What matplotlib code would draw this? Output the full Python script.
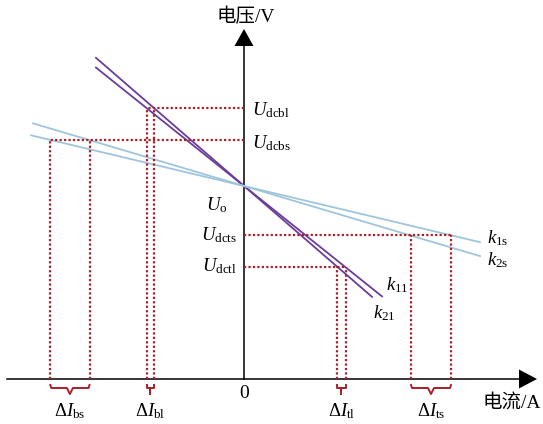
import matplotlib
matplotlib.use("Agg")
import matplotlib.pyplot as plt
import numpy as np

plt.rcParams['mathtext.fontset'] = 'custom'
plt.rcParams['mathtext.rm'] = 'Liberation Serif'
plt.rcParams['mathtext.it'] = 'Liberation Serif:italic'
plt.rcParams['font.family'] = ['Liberation Serif', 'Noto Sans CJK SC']

# operating point where all droop lines cross
U_o = 193

# droop lines: slope, start / end current
noms_droites = ['k_{11}', 'k_{21}', 'k_{1\\mathrm{s}}', 'k_{2\\mathrm{s}}']
pentes = [0.80, 0.866, 0.238, 0.297]
I_debut = [-148, -148, -213, -211]
I_fin = [138, 128, 236, 236]
couleurs = ['#6a3d9a', '#6a3d9a', '#9fc5dc', '#9fc5dc']

# voltage levels and the two currents read on each level
niveaux = ['dcbl', 'dcbs', 'dcts', 'dctl']
U_niveaux = [271.3, 239.5, 144.5, 112.5]
I_niveaux = [(-96.7, -90.5), (-193.7, -154.5), (167, 207), (92.7, 101.7)]
delta_noms = ['bl', 'bs', 'ts', 'tl']

rouge = '#a8202a'

fig = plt.figure(figsize=(5.43, 4.24), dpi=100)
ax = fig.add_axes([0, 0, 1, 1])
ax.set_xlim(-244, 299)
ax.set_ylim(-45, 379)
ax.axis('off')

# axes with arrow heads
ax.plot([-237, 276], [0, 0], color='black', lw=1.1)
ax.plot([0, 0], [0, 334], color='black', lw=1.1)
ax.fill([275, 293, 275], [9.5, 0, -9.5], color='black', lw=0)
ax.fill([-9.5, 0, 9.5], [333, 350, 333], color='black', lw=0)
ax.text(2, 362, '电压/V', ha='center', va='center', fontsize=14)
ax.text(268, -24, '电流/A', ha='center', va='center', fontsize=14)
ax.text(0, -15, '0', ha='center', va='center', fontsize=14)

# droop lines
for k, i0, i1, c in zip(pentes, I_debut, I_fin, couleurs):
    I = np.array([i0, i1])
    ax.plot(I, U_o - k * I, color=c, lw=1.3)

# dotted projections
for U, (ia, ib) in zip(U_niveaux, I_niveaux):
    loin = ia if abs(ia) > abs(ib) else ib
    ax.plot([0, loin], [U, U], color=rouge, lw=1.6, ls=(0, (1, 1)))
    for i in (ia, ib):
        ax.plot([i, i], [0, U], color=rouge, lw=1.6, ls=(0, (1, 1)))

# braces under the x axis
def accolade(x1, x2):
    m = (x1 + x2) / 2
    d = min(3, (x2 - x1) / 4)
    xs = [x1, x1 + 1, m - d, m, m + d, x2 - 1, x2]
    ys = [-6, -9, -9, -15, -9, -9, -6]
    if x2 - x1 < 10:
        xs = [x1, x1, m, m, m, x2, x2]
        ys = [-6, -9, -9, -15, -9, -9, -6]
    ax.plot(xs, ys, color=rouge, lw=1.4)

for (ia, ib), nom in zip(I_niveaux, delta_noms):
    x1, x2 = min(ia, ib), max(ia, ib)
    accolade(x1, x2)
    ax.text((x1 + x2) / 2, -37, r'$\Delta I_{\mathrm{%s}}$' % nom,
            ha='center', va='baseline', fontsize=13.5)

# voltage labels
ax.text(8, 263.3, r'$U_{\mathrm{dcbl}}$', ha='left', va='baseline', fontsize=13.5)
ax.text(8, 231, r'$U_{\mathrm{dcbs}}$', ha='left', va='baseline', fontsize=13.5)
ax.text(-16, 169, r'$U_{\mathrm{o}}$', ha='right', va='baseline', fontsize=13.5)
ax.text(-7, 139, r'$U_{\mathrm{dcts}}$', ha='right', va='baseline', fontsize=13.5)
ax.text(-7, 108, r'$U_{\mathrm{dctl}}$', ha='right', va='baseline', fontsize=13.5)

# slope labels
pos_k = [(142, 89), (129, 61), (243, 136), (243, 114)]
for nom, (x, y) in zip(noms_droites, pos_k):
    ax.text(x, y, '$%s$' % nom, ha='left', va='baseline', fontsize=13.5)

fig.savefig('out.png', dpi=100)
